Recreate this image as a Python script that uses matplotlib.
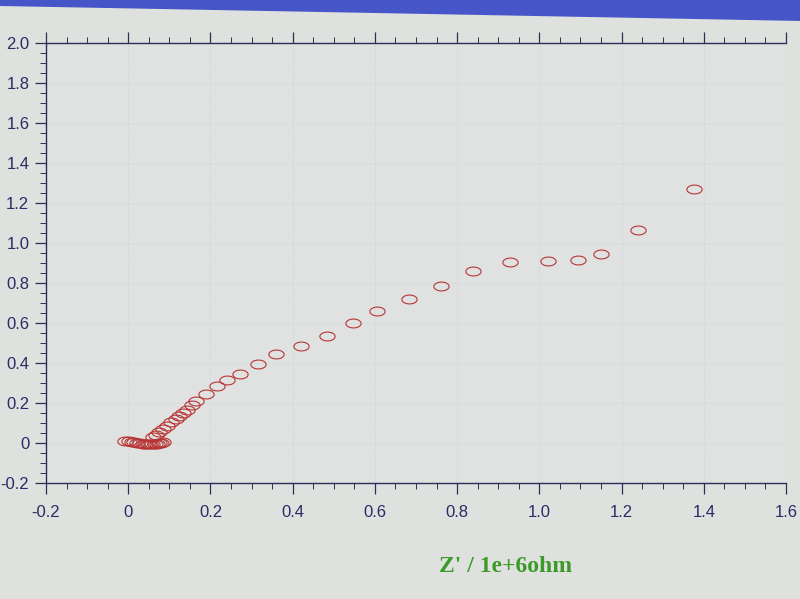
import numpy as np
import matplotlib
matplotlib.use("Agg")
import matplotlib.pyplot as plt
from matplotlib.ticker import MultipleLocator, FuncFormatter
from matplotlib.patches import Polygon

# Nyquist data, Z' and -Z'' in 1e+6 ohm
z_re = [-0.007, 0.002, 0.008, 0.015, 0.022, 0.028, 0.035, 0.041, 0.047, 0.053,
        0.058, 0.064, 0.069, 0.074, 0.080, 0.085,
        0.061, 0.068, 0.076, 0.085, 0.095, 0.105, 0.115, 0.124, 0.134, 0.144,
        0.154, 0.166, 0.188, 0.215, 0.241, 0.273, 0.315, 0.359, 0.420, 0.483,
        0.546, 0.605, 0.683, 0.761, 0.839, 0.929, 1.022, 1.093, 1.149, 1.239,
        1.376]
z_im = [0.012, 0.008, 0.006, 0.003, 0.001, -0.002, -0.004, -0.006, -0.007, -0.007,
        -0.006, -0.005, -0.004, -0.002, 0.002, 0.006,
        0.029, 0.040, 0.055, 0.071, 0.087, 0.103, 0.119, 0.135, 0.151, 0.167,
        0.188, 0.209, 0.246, 0.283, 0.315, 0.347, 0.395, 0.443, 0.487, 0.536,
        0.600, 0.659, 0.720, 0.785, 0.860, 0.906, 0.910, 0.913, 0.946, 1.064,
        1.27]

x_range = (-0.2, 1.6)
y_range = (-0.2, 2.0)

bg = '#dfe1de'
axis_col = '#2b2d5a'

fig = plt.figure(figsize=(8, 5.99), dpi=100, facecolor=bg)
ax = fig.add_axes([46 / 800, 1 - 483 / 599, (786 - 46) / 800, (483 - 43) / 599])
ax.set_facecolor('#e0e2e1')

# open ellipse marker like the instrument software
t = np.linspace(0, 2 * np.pi, 40)
ell = np.column_stack([np.cos(t), 0.58 * np.sin(t)])

ax.plot(z_re, z_im, linestyle='none', marker=ell, markersize=11,
        markerfacecolor='none', markeredgecolor='#b83434', markeredgewidth=0.8)

ax.set_xlim(*x_range)
ax.set_ylim(*y_range)

fmt = FuncFormatter(lambda v, p: '0' if abs(v) < 1e-9 else '%.1f' % v)
for a in (ax.xaxis, ax.yaxis):
    a.set_major_locator(MultipleLocator(0.2))
    a.set_minor_locator(MultipleLocator(0.05))
    a.set_major_formatter(fmt)

ax.tick_params(which='both', direction='out', color=axis_col, labelcolor='#2a2c66',
               labelsize=12, top=True, right=False)
ax.tick_params(which='major', length=8, width=0.9)
ax.tick_params(which='minor', length=4, width=0.7)
ax.tick_params(axis='x', pad=8)
ax.tick_params(axis='y', pad=4)
for lab in ax.get_xticklabels() + ax.get_yticklabels():
    lab.set_family('Liberation Sans')
for s in ['left', 'bottom', 'top']:
    ax.spines[s].set_color(axis_col)
    ax.spines[s].set_linewidth(1.0)
ax.spines['right'].set_visible(False)

ax.grid(True, which='major', color='#cdd0d2', linestyle=':', linewidth=0.6)

fig.text(0.632, 0.045, "Z' / 1e+6ohm", color='#3d9a2a', fontsize=17,
         fontweight='bold', family='Liberation Serif', ha='center')

# window title bar at the top of the screen
fig.patches.append(Polygon([[0, 1], [1, 1], [1, 0.965], [0, 0.99]], closed=True,
                           transform=fig.transFigure, facecolor='#4656c8',
                           edgecolor='none'))

fig.savefig('out.png', dpi=100, facecolor=bg)
